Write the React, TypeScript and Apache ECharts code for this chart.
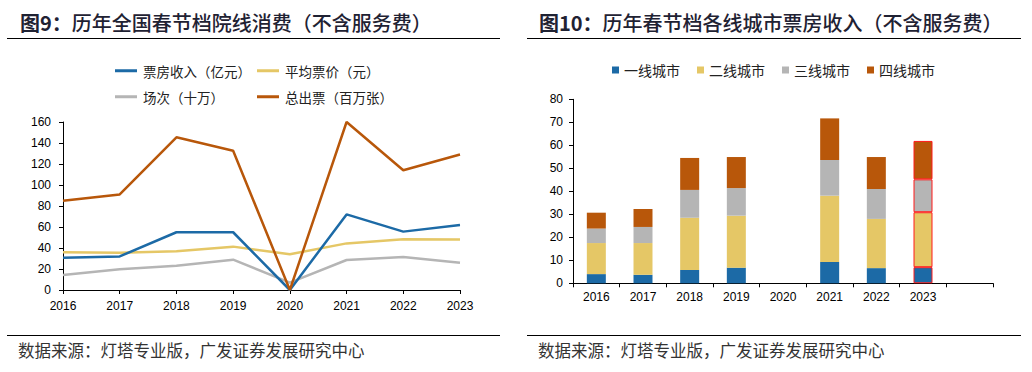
import React, { useEffect, useRef } from "react";
import * as echarts from "echarts";

const years = ["2016", "2017", "2018", "2019", "2020", "2021", "2022", "2023"];
const barYears = ["2016", "2017", "2018", "2019", "2020", "2021", "2022", "2023", ""];

const boxOffice = [30.8, 32, 55, 55, 0, 72, 55.6, 62];
const avgPrice = [35.9, 35.5, 37, 41.3, 34, 44.4, 48.3, 48];
const screenings = [14.3, 19.7, 23.2, 28.9, 7, 28.6, 31.4, 26];
const tickets = [85, 91, 145.4, 132.7, 0, 160, 114, 129];

const tier1 = [4.0, 3.7, 5.8, 6.8, null, 9.3, 6.6, 7.0, null];
const tier2 = [13.5, 13.8, 22.7, 22.6, null, 28.8, 21.4, 23.9, null];
const tier3 = [6.3, 7.0, 12.1, 12.0, null, 15.5, 13.0, 14.3, null];
const tier4 = [6.9, 7.8, 13.9, 13.5, null, 18.1, 13.9, 16.7, null];

const lineNames = ["票房收入（亿元）", "平均票价（元）", "场次（十万）", "总出票（百万张）"];
const barNames = ["一线城市", "二线城市", "三线城市", "四线城市"];

const BLUE = "#1c6aa6";
const YELLOW = "#e5c766";
const GRAY = "#b5b5b5";
const ORANGE = "#b8570a";

const CJK = '"Noto Sans CJK SC", sans-serif';
const NUM = '"Liberation Sans", Arial, sans-serif';

export default function App() {
  const ref = useRef<HTMLDivElement>(null);
  useEffect(() => {
    document.body.style.margin = "0";
    const chart = echarts.init(ref.current!, null, { renderer: "svg" });

    const hl = (arr: (number | null)[]) =>
      arr.map((v, i) =>
        i === 7
          ? { value: v, itemStyle: { borderColor: "#ff1a1a", borderWidth: 1 } }
          : v
      );

    const axisLineStyle = { lineStyle: { color: "#000", width: 1 } };
    const lineLegend = (name: string, left: number, top: number) => ({
      data: [name],
      left,
      top,
      icon: "rect",
      itemWidth: 22,
      itemHeight: 3,
      itemGap: 4,
      padding: 0,
      textStyle: { fontFamily: CJK, fontSize: 13.5, color: "#222", padding: [0, 0, 0, 1] },
    });
    const barLegend = (name: string, left: number) => ({
      data: [name],
      left,
      top: 63,
      icon: "rect",
      itemWidth: 7,
      itemHeight: 7,
      padding: 0,
      textStyle: { fontFamily: CJK, fontSize: 14, color: "#222", padding: [0, 0, 0, 0] },
    });

    chart.setOption({
      animation: false,
      legend: [
        lineLegend(lineNames[0], 115, 64),
        lineLegend(lineNames[1], 257, 64),
        lineLegend(lineNames[2], 115, 90),
        lineLegend(lineNames[3], 257, 90),
        barLegend(barNames[0], 612),
        barLegend(barNames[1], 697),
        barLegend(barNames[2], 782),
        barLegend(barNames[3], 867),
      ],
      grid: [
        { left: 63, top: 122, width: 397, height: 168 },
        { left: 573, top: 99.3, width: 420, height: 184 },
      ],
      xAxis: [
        {
          type: "category",
          gridIndex: 0,
          data: years,
          boundaryGap: false,
          axisLine: axisLineStyle,
          axisTick: { show: true, length: 4, lineStyle: { color: "#000" } },
          axisLabel: { color: "#000", fontFamily: NUM, fontSize: 12, margin: 10 },
        },
        {
          type: "category",
          gridIndex: 1,
          data: barYears,
          axisLine: axisLineStyle,
          axisTick: { show: true, length: 4, lineStyle: { color: "#000" } },
          axisLabel: { color: "#000", fontFamily: NUM, fontSize: 12, margin: 8, interval: 0 },
        },
      ],
      yAxis: [
        {
          type: "value",
          gridIndex: 0,
          min: 0,
          max: 160,
          interval: 20,
          splitLine: { show: false },
          axisLine: { show: true, ...axisLineStyle },
          axisTick: { show: true, length: 4, lineStyle: { color: "#000" } },
          axisLabel: { color: "#000", fontFamily: NUM, fontSize: 12, margin: 12 },
        },
        {
          type: "value",
          gridIndex: 1,
          min: 0,
          max: 80,
          interval: 10,
          splitLine: { show: false },
          axisLine: { show: true, ...axisLineStyle },
          axisTick: { show: true, length: 4, lineStyle: { color: "#000" } },
          axisLabel: { color: "#000", fontFamily: NUM, fontSize: 12, margin: 10 },
        },
      ],
      series: [
        { name: lineNames[0], type: "line", xAxisIndex: 0, yAxisIndex: 0, data: boxOffice, symbol: "none", color: BLUE, lineStyle: { width: 2.5, color: BLUE }, z: 4 },
        { name: lineNames[1], type: "line", xAxisIndex: 0, yAxisIndex: 0, data: avgPrice, symbol: "none", color: YELLOW, lineStyle: { width: 2.5, color: YELLOW }, z: 3 },
        { name: lineNames[2], type: "line", xAxisIndex: 0, yAxisIndex: 0, data: screenings, symbol: "none", color: GRAY, lineStyle: { width: 2.5, color: GRAY }, z: 2 },
        { name: lineNames[3], type: "line", xAxisIndex: 0, yAxisIndex: 0, data: tickets, symbol: "none", color: ORANGE, lineStyle: { width: 2.5, color: ORANGE }, z: 5 },
        { name: barNames[0], type: "bar", stack: "s", xAxisIndex: 1, yAxisIndex: 1, data: hl(tier1), barWidth: 19, itemStyle: { color: BLUE } },
        { name: barNames[1], type: "bar", stack: "s", xAxisIndex: 1, yAxisIndex: 1, data: hl(tier2), barWidth: 19, itemStyle: { color: YELLOW } },
        { name: barNames[2], type: "bar", stack: "s", xAxisIndex: 1, yAxisIndex: 1, data: hl(tier3), barWidth: 19, itemStyle: { color: GRAY } },
        { name: barNames[3], type: "bar", stack: "s", xAxisIndex: 1, yAxisIndex: 1, data: hl(tier4), barWidth: 19, itemStyle: { color: ORANGE } },
      ],
      graphic: [
        {
          type: "text",
          left: 20,
          top: 12,
          style: {
            text: "{b|图9：}{n|历年全国春节档院线消费（不含服务费）}",
            rich: {
              b: { fontFamily: CJK, fontSize: 20, fontWeight: "bold", fill: "#1f2233" },
              n: { fontFamily: CJK, fontSize: 20, fontWeight: 500, fill: "#1f2233" },
            },
          },
        },
        {
          type: "text",
          left: 539,
          top: 12,
          style: {
            text: "{b|图10：}{n|历年春节档各线城市票房收入（不含服务费）}",
            rich: {
              b: { fontFamily: CJK, fontSize: 20, fontWeight: "bold", fill: "#1f2233" },
              n: { fontFamily: CJK, fontSize: 20, fontWeight: 500, fill: "#1f2233" },
            },
          },
        },
        { type: "line", shape: { x1: 7, y1: 38.5, x2: 500, y2: 38.5 }, style: { stroke: "#000", lineWidth: 1 } },
        { type: "line", shape: { x1: 527, y1: 38.5, x2: 1021, y2: 38.5 }, style: { stroke: "#000", lineWidth: 1 } },
        { type: "line", shape: { x1: 7, y1: 335.5, x2: 500, y2: 335.5 }, style: { stroke: "#000", lineWidth: 1 } },
        { type: "line", shape: { x1: 527, y1: 335.5, x2: 1021, y2: 335.5 }, style: { stroke: "#000", lineWidth: 1 } },
        {
          type: "text",
          left: 18,
          top: 342,
          style: { text: "数据来源：灯塔专业版，广发证券发展研究中心", fontFamily: CJK, fontSize: 16.5, fill: "#333" },
        },
        {
          type: "text",
          left: 538,
          top: 342,
          style: { text: "数据来源：灯塔专业版，广发证券发展研究中心", fontFamily: CJK, fontSize: 16.5, fill: "#333" },
        },
      ],
    });
    return () => chart.dispose();
  }, []);
  return <div ref={ref} style={{ width: 1032, height: 372 }} />;
}
